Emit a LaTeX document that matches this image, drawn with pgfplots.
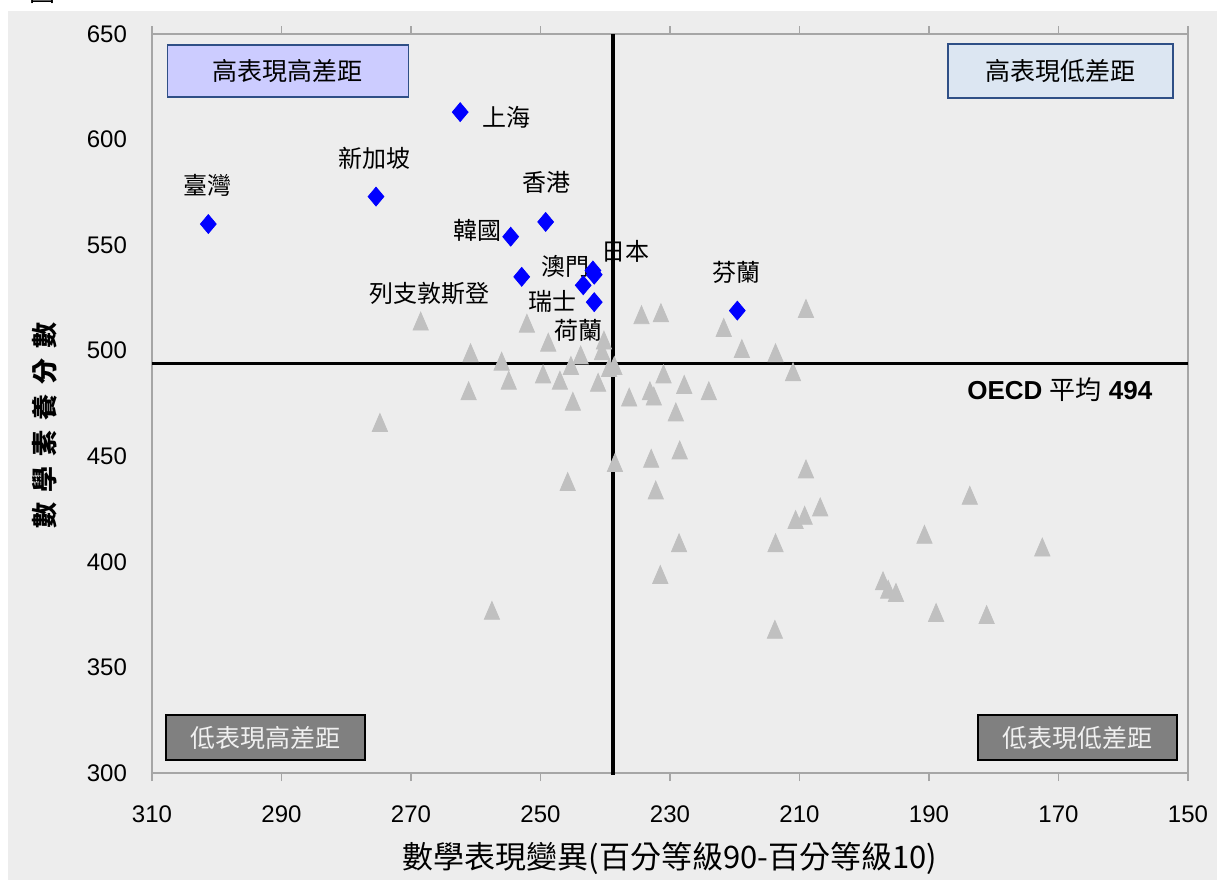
\documentclass[border=0pt]{standalone}
\usepackage{fontspec}
\setmainfont{Liberation Sans}
\newfontfamily\cjk{Noto Sans CJK TC}
\usepackage{pgfplots}
\pgfplotsset{compat=1.18}
\definecolor{bg}{HTML}{EDEDED}
\definecolor{tri}{HTML}{C0C0C0}
\definecolor{dia}{HTML}{0000FF}
\definecolor{boxedge}{HTML}{2F4F86}
\definecolor{boxa}{HTML}{CCCCFF}
\definecolor{boxb}{HTML}{DCE6F2}
\definecolor{boxc}{HTML}{808080}
\definecolor{frame}{HTML}{A6A6A6}

\begin{document}
\begin{tikzpicture}
\useasboundingbox (0pt,0pt) rectangle (608.5pt,-440pt);
\fill[white] (0pt,0pt) rectangle (608.5pt,-440pt);
\fill[bg] (4pt,-5.5pt) rectangle (608.5pt,-440pt);
\node[anchor=south, font=\cjk\fontsize{13}{13}\selectfont, inner sep=0pt] at (21pt,-2pt) {圖};

\begin{axis}[
  at={(76pt,-386.5pt)}, anchor=south west, scale only axis,
  width=518pt, height=369.5pt,
  x dir=reverse, xmin=150, xmax=310, ymin=300, ymax=650,
  xtick={150,170,...,310}, ytick={300,350,...,650},
  axis line style={draw=frame, line width=0.6pt},
  tick align=outside, major tick length=4pt,
  xtick style={draw=frame, line width=0.6pt},
  ytick style={draw=none},
  ticklabel style={font=\fontsize{12}{14}\selectfont},
  /pgf/number format/assume math mode=true,
  xticklabel style={yshift=-9pt},
  yticklabel style={xshift=-5pt},
  clip=false,
]
% reference lines (OECD mean)
\draw[black, line width=1.75pt] (axis cs:310,494) -- (axis cs:150,494);
\draw[black, line width=1.75pt] (axis cs:238.8,650) -- (axis cs:238.8,299);

% other countries
\addplot[only marks, mark=triangle*, mark size=4.4pt, color=tri,
  mark options={yscale=1.35, yshift=-1.1pt}] coordinates {
(268.5,514) (252.1,513) (248.8,504) (240.2,505) (240.5,500) (260.8,499)
(243.8,498) (256.0,495) (245.3,493) (239.4,492) (238.6,493) (254.9,486)
(249.6,489) (247.0,486) (241.1,485) (261.1,481) (245.0,476) (274.8,466)
(238.5,447) (245.8,438) (257.5,377) (234.4,517) (231.4,518) (209.0,520)
(221.7,511) (218.9,501) (213.7,499) (211.0,490) (231.0,489) (227.8,484)
(224.0,481) (236.3,478) (233.1,481) (232.5,478.5) (229.1,471) (228.5,453)
(232.9,449) (232.2,434) (209.0,444) (206.8,426) (209.2,422) (210.6,420)
(228.6,409) (231.5,394) (213.7,409) (213.8,368) (183.7,431.5) (190.7,413)
(172.5,407) (197.1,391) (196.3,387) (195.1,385.5) (188.9,376) (181.1,375)
};

% top performers
\addplot[only marks, mark=diamond*, mark size=4.7pt, color=dia,
  mark options={xscale=1.12}] coordinates {
(301.3,560) (275.4,573) (262.4,613) (249.2,561) (254.6,554) (252.9,535)
(241.9,538) (241.7,536) (243.4,531) (241.7,523) (219.6,519)
};

\begin{scope}[every node/.style={font=\cjk\fontsize{12}{12}\selectfont, inner sep=0pt}]
\node at (axis cs:301.5,578.5) {臺灣};
\node at (axis cs:275.6,591.3) {新加坡};
\node[anchor=west] at (axis cs:259.0,610.7) {上海};
\node at (axis cs:249.0,579.9) {香港};
\node at (axis cs:259.7,557.2) {韓國};
\node at (axis cs:246.2,540.1) {澳門};
\node at (axis cs:236.8,547.2) {日本};
\node at (axis cs:248.1,523.5) {瑞士};
\node at (axis cs:244.2,509.8) {荷蘭};
\node at (axis cs:267.1,527.3) {列支敦斯登};
\node at (axis cs:219.7,537.3) {芬蘭};
\end{scope}
\node[font=\fontsize{13}{13}\selectfont\bfseries, inner sep=0pt] at (axis cs:169.8,481.4)
  {OECD {\cjk\mdseries 平均} 494};

% quadrant boxes
\node[draw=boxedge, fill=boxa, line width=0.9pt, minimum width=120.5pt, minimum height=26pt,
  font=\cjk\fontsize{12.5}{12.5}\selectfont] at (axis cs:289.0,632.5) {高表現高差距};
\node[draw=boxedge, fill=boxb, line width=0.9pt, minimum width=112.5pt, minimum height=27pt,
  font=\cjk\fontsize{12.5}{12.5}\selectfont] at (axis cs:169.7,632.5) {高表現低差距};
\node[draw=black, fill=boxc, line width=0.9pt, minimum width=99.5pt, minimum height=22.5pt,
  text=white!88!gray, font=\cjk\fontsize{12.5}{12.5}\selectfont] at (axis cs:292.5,316.8) {低表現高差距};
\node[draw=black, fill=boxc, line width=0.9pt, minimum width=99.5pt, minimum height=22.5pt,
  text=white!88!gray, font=\cjk\fontsize{12.5}{12.5}\selectfont] at (axis cs:167.1,316.8) {低表現低差距};
\end{axis}

% axis titles
\node[rotate=90, font=\cjk\bfseries\fontsize{13}{13}\selectfont]
  at (22.5pt,-212.5pt) {數\hspace{5pt}學\hspace{5pt}素\hspace{5pt}養\hspace{5pt}分\hspace{5pt}數};
\node[font=\cjk\fontsize{15.5}{15.5}\selectfont] at (335pt,-429pt)
  {數學表現變異(百分等級90-百分等級10)};
\end{tikzpicture}
\end{document}
